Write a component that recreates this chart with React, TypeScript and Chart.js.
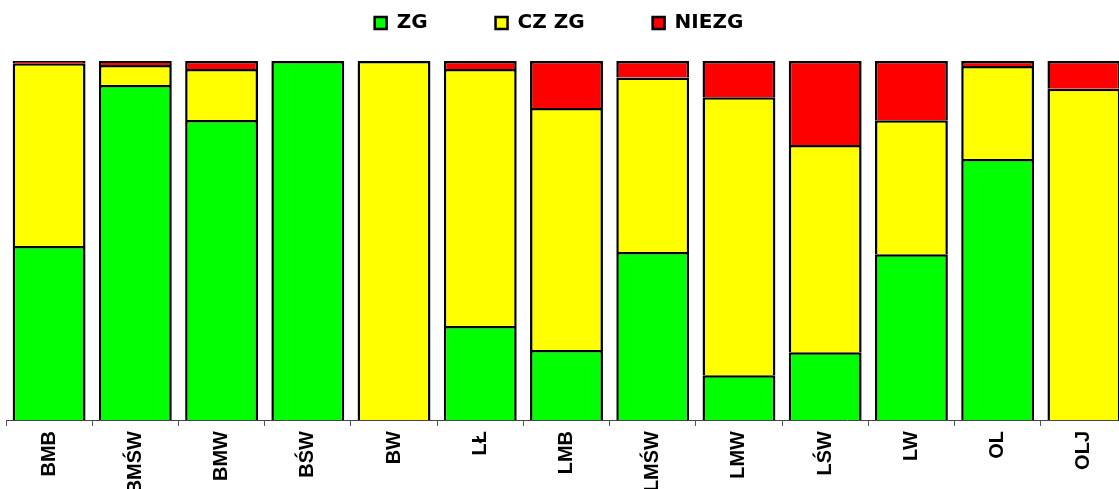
import React, { useEffect, useRef } from "react";
import { Chart, registerables } from "chart.js";

Chart.register(...registerables);

const categories = ["BMB", "BMŚW", "BMW", "BŚW", "BW", "LŁ", "LMB", "LMŚW", "LMW", "LŚW", "LW", "OL", "OLJ"];
const zg = [48.5, 93.3, 83.6, 100, 0, 26.2, 19.5, 46.8, 12.5, 18.9, 46.2, 72.7, 0];
const czZg = [50.9, 5.6, 14.2, 0, 100, 71.6, 67.4, 48.6, 77.4, 57.7, 37.3, 25.9, 92.3];
const niezg = [0.6, 1.1, 2.2, 0, 0, 2.2, 13.1, 4.6, 10.1, 23.4, 16.5, 1.4, 7.7];
const seriesNames = ["ZG", "CZ ZG", "NIEZG"];
const seriesColors = ["#00ff00", "#ffff00", "#ff0000"];

export default function App() {
  const ref = useRef<HTMLCanvasElement | null>(null);

  useEffect(() => {
    if (!ref.current) return;
    const values = [zg, czZg, niezg];
    const chart = new Chart(ref.current, {
      type: "bar",
      data: {
        labels: categories,
        datasets: values.map((v, i) => ({
          label: seriesNames[i],
          data: v,
          backgroundColor: seriesColors[i],
          borderColor: "#000000",
          borderWidth: 2.5,
          inflateAmount: 0,
          barPercentage: 0.845,
          categoryPercentage: 1,
        })),
      },
      options: {
        responsive: false,
        animation: false,
        layout: { padding: { top: -55, left: 0, right: 0, bottom: 0 } },
        plugins: {
          tooltip: { enabled: false },
          legend: {
            position: "top",
            labels: {
              boxWidth: 12,
              boxHeight: 12,
              padding: 68,
              color: "#000000",
              font: { family: "DejaVu Sans", weight: "bold", size: 20 },
            },
          },
        },
        scales: {
          x: {
            stacked: true,
            offset: true,
            grid: {
              offset: true,
              drawOnChartArea: false,
              drawTicks: true,
              tickLength: 6,
              color: "#555555",
              lineWidth: 1,
            },
            border: { display: true, color: "#444444", width: 1 },
            ticks: {
              autoSkip: false,
              maxRotation: 90,
              minRotation: 90,
              padding: 5,
              color: "#000000",
              font: { family: "Liberation Sans", weight: "bold", size: 20 },
            },
            afterFit: (s: any) => {
              s.height = 69;
            },
          },
          x2: {
            type: "category",
            position: "top",
            display: true,
            grid: { display: false },
            border: { display: false },
            ticks: { display: false },
            afterFit: (s: any) => {
              s.height = 18;
            },
          },
          y: {
            stacked: true,
            min: 0,
            max: 100,
            display: true,
            grid: { display: false },
            border: { display: false },
            ticks: { display: false },
            afterFit: (s: any) => {
              s.width = 15;
            },
          },
        },
      },
    });
    return () => chart.destroy();
  }, []);

  return (
    <div
      style={{
        position: "fixed",
        left: 0,
        top: 0,
        width: 1119,
        height: 489,
        overflow: "hidden",
        background: "#ffffff",
      }}
    >
      <canvas
        ref={ref}
        width={1136}
        height={489}
        style={{ position: "absolute", left: -9, top: 0 }}
      />
    </div>
  );
}
